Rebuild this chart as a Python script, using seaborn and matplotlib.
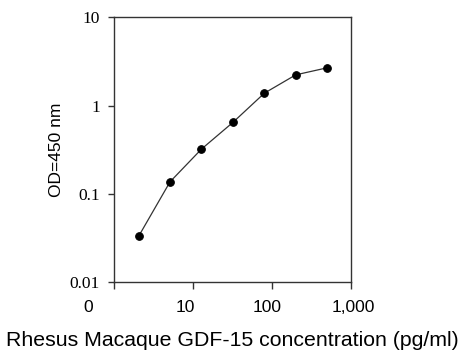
import numpy as np
import pandas as pd
import matplotlib
matplotlib.use("Agg")
import matplotlib.pyplot as plt
import matplotlib.transforms as mtransforms
import seaborn as sns

# standard curve, 2.5-fold dilutions
conc = [2.048, 5.12, 12.8, 32, 80, 200, 500]
od = [0.0327, 0.136, 0.32, 0.643, 1.38, 2.23, 2.68]
xtick_vals = [1, 10, 100, 1000]
xtick_labels = ["0", "10", "100", "1,000"]
ytick_vals = [0.01, 0.1, 1, 10]
ytick_labels = ["0.01", "0.1", "1", "10"]

df = pd.DataFrame({"conc": conc, "od": od})

sns.set_style("white")
plt.rcParams["font.family"] = ["Liberation Sans", "DejaVu Sans"]
plt.rcParams["text.color"] = "black"
plt.rcParams["axes.labelcolor"] = "black"

fig = plt.figure(figsize=(4.74, 3.63), dpi=100)
ax = fig.add_axes([0.2405, 0.224, 0.5, 0.728])

sns.lineplot(data=df, x="conc", y="od", ax=ax, color="#333333", linewidth=0.9,
             marker="o", markersize=5.5, markerfacecolor="black",
             markeredgecolor="black")

ax.set_xscale("log")
ax.set_yscale("log")
ax.set_xlim(1, 1000)
ax.set_ylim(0.01, 10)

ax.set_xticks(xtick_vals)
ax.set_xticklabels(xtick_labels, fontsize=12.5)
ax.set_yticks(ytick_vals)
ax.set_yticklabels(ytick_labels, fontsize=12.5, family="Liberation Serif")
ax.minorticks_off()

ax.tick_params(axis="x", direction="out", length=5, width=1, color="#333333",
               pad=8, labelcolor="black")
ax.tick_params(axis="y", direction="out", length=4, width=1, color="#333333",
               pad=6, labelcolor="black")
ax.tick_params(bottom=True, left=True)

# nudge x tick labels like the original
shifts = [-26, -8, -5, 2]
for lab, dx in zip(ax.get_xticklabels(), shifts):
    lab.set_transform(lab.get_transform() + mtransforms.ScaledTranslation(dx / 100, 0, fig.dpi_scale_trans))

for sp in ax.spines.values():
    sp.set_visible(True)
    sp.set_color("#333333")
    sp.set_linewidth(1)

ax.set_xlabel("Rhesus Macaque GDF-15 concentration (pg/ml)", fontsize=15.3, labelpad=12)
ax.set_ylabel("OD=450 nm", fontsize=12.5, labelpad=4)

fig.savefig("out.png", dpi=100)
